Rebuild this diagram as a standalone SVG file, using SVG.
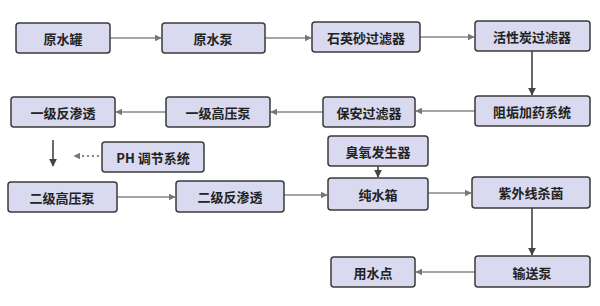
<svg xmlns="http://www.w3.org/2000/svg" width="600" height="306" viewBox="0 0 600 306">
<defs>
<marker id="ah" viewBox="0 0 10 10" refX="9" refY="5" markerWidth="7" markerHeight="7" markerUnits="userSpaceOnUse" orient="auto">
<path d="M0,0 L10,5 L0,10 Z" fill="#777"/>
</marker>
<marker id="ahd" viewBox="0 0 10 10" refX="9" refY="5" markerWidth="8" markerHeight="8" markerUnits="userSpaceOnUse" orient="auto">
<path d="M0,0 L10,5 L0,10 Z" fill="#444"/>
</marker>
</defs>
<style>
.box{fill:#d9d9ef;stroke:#3a3a3a;stroke-width:1.5}
.t{font-family:"Noto Sans CJK SC","Noto Sans",sans-serif;font-size:13px;font-weight:bold;fill:#222;text-anchor:middle;dominant-baseline:central}
.c{stroke:#888;stroke-width:1.6;fill:none;marker-end:url(#ah)}
.cd{stroke:#444;stroke-width:1.6;fill:none;marker-end:url(#ahd)}
.dot{stroke:#888;stroke-width:2;fill:none;stroke-dasharray:2 3;marker-end:url(#ah)}
</style>
<rect width="600" height="306" fill="#ffffff"/>
<g id="connectors">
<line class="c" x1="110" y1="38" x2="161" y2="38"/>
<line class="c" x1="265" y1="38" x2="311" y2="38"/>
<line class="c" x1="420" y1="37" x2="474" y2="37"/>
<line class="cd" x1="532" y1="51" x2="532" y2="95"/>
<line class="c" x1="475" y1="111" x2="416" y2="111"/>
<line class="c" x1="323" y1="112" x2="271" y2="112"/>
<line class="c" x1="166" y1="112" x2="116" y2="112"/>
<line class="cd" x1="53" y1="140" x2="53" y2="166"/>
<line class="dot" x1="99" y1="156" x2="74" y2="156"/>
<line class="c" x1="117" y1="197" x2="175" y2="197"/>
<line class="c" x1="284" y1="195" x2="327" y2="195"/>
<line class="cd" x1="378" y1="166" x2="378" y2="177"/>
<line class="c" x1="428" y1="193" x2="471" y2="193"/>
<line class="cd" x1="532" y1="208" x2="532" y2="255"/>
<line class="c" x1="475" y1="272" x2="416" y2="272"/>
</g>
<g id="n1"><rect class="box" x="16" y="23" width="94" height="30" rx="3"/><text class="t" x="63" y="38">原水罐</text></g>
<g id="n2"><rect class="box" x="162" y="23" width="103" height="30" rx="3"/><text class="t" x="213" y="38">原水泵</text></g>
<g id="n3"><rect class="box" x="312" y="22" width="108" height="30" rx="3"/><text class="t" x="366" y="37">石英砂过滤器</text></g>
<g id="n4"><rect class="box" x="475" y="21" width="115" height="30" rx="3"/><text class="t" x="532" y="36">活性炭过滤器</text></g>
<g id="n5"><rect class="box" x="475" y="96" width="115" height="30" rx="3"/><text class="t" x="532" y="111">阻垢加药系统</text></g>
<g id="n6"><rect class="box" x="323" y="97" width="92" height="30" rx="3"/><text class="t" x="369" y="112">保安过滤器</text></g>
<g id="n7"><rect class="box" x="166" y="97" width="104" height="30" rx="3"/><text class="t" x="218" y="112">一级高压泵</text></g>
<g id="n8"><rect class="box" x="11" y="97" width="104" height="30" rx="3"/><text class="t" x="63" y="112">一级反渗透</text></g>
<g id="n9"><rect class="box" x="102" y="142" width="102" height="30" rx="3"/><text class="t" x="153" y="157">PH 调节系统</text></g>
<g id="n10"><rect class="box" x="328" y="136" width="100" height="30" rx="3"/><text class="t" x="378" y="151">臭氧发生器</text></g>
<g id="n11"><rect class="box" x="8" y="182" width="109" height="30" rx="3"/><text class="t" x="62" y="197">二级高压泵</text></g>
<g id="n12"><rect class="box" x="176" y="181" width="108" height="31" rx="3"/><text class="t" x="230" y="196">二级反渗透</text></g>
<g id="n13"><rect class="box" x="328" y="178" width="100" height="32" rx="3"/><text class="t" x="378" y="194">纯水箱</text></g>
<g id="n14"><rect class="box" x="472" y="177" width="118" height="31" rx="3"/><text class="t" x="531" y="192">紫外线杀菌</text></g>
<g id="n15"><rect class="box" x="475" y="256" width="115" height="31" rx="3"/><text class="t" x="532" y="272">输送泵</text></g>
<g id="n16"><rect class="box" x="331" y="257" width="84" height="30" rx="3"/><text class="t" x="373" y="272">用水点</text></g>
</svg>
